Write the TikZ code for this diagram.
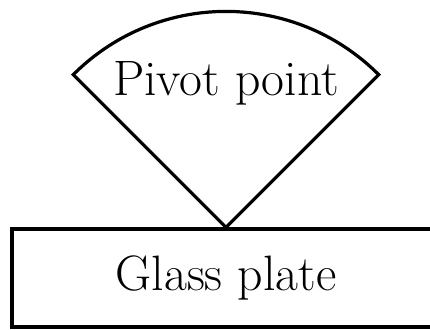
\documentclass[tikz,border=0pt]{standalone}
\usepackage{tikz}
\usetikzlibrary{positioning,calc}

\tikzset{
  partbox/.style={draw, line width=1.6pt, minimum width=214pt, minimum height=49pt, font=\Huge},
  parttext/.style={font=\Huge, inner sep=0pt}
}

\begin{document}
\begin{tikzpicture}[x=0.5pt, y=0.5pt]
\useasboundingbox (0,0) rectangle (430,329);

% --- Glass plate ---
\node[partbox] (plate) at (226,51) {Glass plate};

% --- Pivot (sector on the plate) ---
\coordinate (apex) at (plate.north);
\draw[line width=1.6pt, line join=miter] (apex) -- ++(135:216) arc (135:45:216) -- cycle;
\node[parttext] (pivot) at ($(apex)+(0,144)$) {Pivot point};

\end{tikzpicture}
\end{document}
